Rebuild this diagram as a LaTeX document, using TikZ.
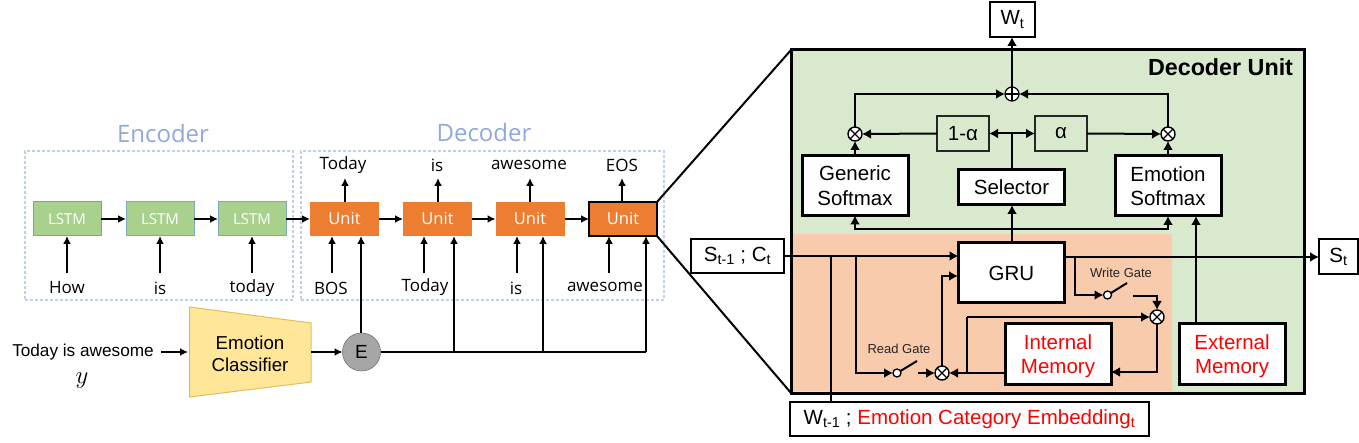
\documentclass[tikz,border=0pt]{standalone}
\usepackage{fontspec}
\setmainfont{Liberation Sans}
\newfontfamily\leftfont{Open Sans}
\usetikzlibrary{arrows.meta,positioning}
\definecolor{unitgreen}{HTML}{D8E9CE}
\definecolor{regionorange}{HTML}{F8CBAD}
\definecolor{lstmgreen}{HTML}{A9D18E}
\definecolor{lstmedge}{HTML}{7FA8B8}
\definecolor{unitorange}{HTML}{ED7D31}
\definecolor{dashblue}{HTML}{BFD0EC}
\definecolor{titleblue}{HTML}{8EAADB}
\definecolor{classfill}{HTML}{FFE699}
\definecolor{classedge}{HTML}{E2BE5A}
\definecolor{egray}{HTML}{A6A6A6}
\definecolor{memred}{HTML}{FF0000}
\tikzset{
  every node/.style={inner sep=0pt,outer sep=0pt,align=center},
  arr/.style={-{Latex[length=8pt,width=8pt]},line width=2pt,black},
  plain/.style={line width=2pt,black},
  thinarr/.style={-{Latex[length=9pt,width=10pt]},line width=2pt,black},
  lineonly/.style={line width=2pt,black},
  dashbox/.style={draw=dashblue,line width=1.3pt,dashed,dash pattern=on 3pt off 2pt},
  title/.style={text=titleblue,font=\leftfont\fontsize{24}{28}\selectfont},
  lstm/.style={rectangle,draw=lstmedge,fill=lstmgreen,line width=1pt,minimum width=68pt,minimum height=34pt,text=white,font=\leftfont\fontsize{15}{18}\selectfont},
  unitbox/.style={rectangle,fill=unitorange,minimum width=69pt,minimum height=34pt,text=white,font=\leftfont\fontsize{16.5}{20}\selectfont},
  word/.style={font=\leftfont\fontsize{17}{20}\selectfont},
  bigbox/.style={rectangle,draw=black,fill=white,line width=3pt,minimum width=106pt,minimum height=60pt,text depth=0pt,font=\fontsize{20.5}{24.5}\selectfont},
  lowered/.style={text depth=-3pt},
  smallbox/.style={rectangle,draw=black!85,line width=2pt,minimum width=52pt,minimum height=35pt,font=\fontsize{20.5}{24}\selectfont},
  iobox/.style={rectangle,draw=black,fill=white,line width=2pt,font=\fontsize{20.5}{24}\selectfont},
  otimesnode/.style={circle,draw=black,fill=white,line width=1.4pt,minimum size=14pt,path picture={
    \draw[line width=1.2pt] (path picture bounding box.north west)--(path picture bounding box.south east)
      (path picture bounding box.north east)--(path picture bounding box.south west);}},
  oplusnode/.style={circle,draw=black,fill=white,line width=1.2pt,minimum size=14pt,path picture={
    \draw[line width=1.1pt] (path picture bounding box.north)--(path picture bounding box.south)
      (path picture bounding box.east)--(path picture bounding box.west);}},
  gatecircle/.style={circle,draw=black,fill=white,line width=1.3pt,minimum size=8pt},
  gatetext/.style={font=\fontsize{13}{15}\selectfont,text=black!85},
  redtext/.style={text=memred},
}
\begin{document}
\begin{tikzpicture}[x=1pt,y=-1pt]
\useasboundingbox (0,0) rectangle (1359,443);
% ---- left part
\node[dashbox,minimum width=268pt,minimum height=149pt] (encbox) at (159,225.5) {};
\node[dashbox,minimum width=363pt,minimum height=149pt] (decbox) at (482.5,225.5) {};
\node[title] (enclabel) at (163,134) {Encoder};
\node[title] (declabel) at (484,133) {Decoder};
\node[lstm,draw=lstmgreen!80!black] (l1) at (67,219) {LSTM};
\node[lstm] (l2) at (160,219) {LSTM};
\node[lstm] (l3) at (252,219) {LSTM};
\node[unitbox] (u1) at (344.5,219) {Unit};
\node[unitbox] (u2) at (437.5,219) {Unit};
\node[unitbox] (u3) at (530,219) {Unit};
\node[unitbox,draw=black,line width=2.4pt,minimum width=68pt] (u4) at (623,219) {Unit};
\draw[arr] (l1.east)--(l2.west);
\draw[arr] (l2.east)--(l3.west);
\draw[arr] (l3.east)--(u1.west);
\draw[arr] (u1.east)--(u2.west);
\draw[arr] (u2.east)--(u3.west);
\draw[arr] (u3.east)--(u4.west);
\node[word] (w1) at (67,288) {How};
\node[word] (w2) at (160,288) {is};
\node[word] (w3) at (252,288) {today};
\node[word] (w4) at (331,288) {BOS};
\node[word] (w5) at (425,287) {Today};
\node[word] (w6) at (516,288) {is};
\node[word] (w7) at (605,287) {awesome};
\coordinate (t1) at (67,273);\coordinate (t2) at (160,273);\coordinate (t3) at (252,273);
\coordinate (t4) at (332,273);\coordinate (t5) at (424,273);\coordinate (t6) at (517,273);\coordinate (t7) at (609,273);
\draw[arr] (t1)--(t1 |- l1.south);
\draw[arr] (t2)--(t2 |- l2.south);
\draw[arr] (t3)--(t3 |- l3.south);
\draw[arr] (t4)--(t4 |- u1.south);
\draw[arr] (t5)--(t5 |- u2.south);
\draw[arr] (t6)--(t6 |- u3.south);
\draw[arr] (t7)--(t7 |- u4.south);
\node[word] (o1) at (343,165) {Today};
\node[word] (o2) at (437,165) {is};
\node[word] (o3) at (529,165) {awesome};
\node[word] (o4) at (622,165) {EOS};
\coordinate (p1) at (345,178);\coordinate (p2) at (438,178);\coordinate (p3) at (530,178);\coordinate (p4) at (622,178);
\draw[arr] (p1 |- u1.north)--(p1);
\draw[arr] (p2 |- u2.north)--(p2);
\draw[arr] (p3 |- u3.north)--(p3);
\draw[arr] (p4 |- u4.north)--(p4);
% emotion classifier
\draw[draw=classedge,fill=classfill,line width=1pt] (189.5,307)--(311,323)--(311,382)--(189.5,397)--cycle;
\node[font=\fontsize{18.7}{21.5}\selectfont] (clf) at (250,353.5) {Emotion\\[0.5pt]Classifier};
\coordinate (clfr) at (311,352);
\coordinate (clfl) at (188,352);
\node[font=\fontsize{17.2}{20}\selectfont] (src) at (83,352.5) {Today is awesome};
\node[font=\fontsize{24}{26}\selectfont] (ylab) at (82,381) {$y$};
\coordinate (srcend) at (161,352);
\draw[arr] (srcend)--(clfl);
\node[circle,draw=black!55,fill=egray,line width=.6pt,minimum size=38pt,font=\fontsize{19}{22}\selectfont] (e) at (361.5,352) {E};
\draw[arr] (clfr)--(e.west);
\coordinate (j1) at (361,236);\coordinate (j2) at (454,352);\coordinate (j3) at (543,352);\coordinate (j4) at (646,352);
\draw[arr] (j1 |- e.north)--(j1);
\draw[plain] (e.east)--(j4);
\draw[arr] (j2)--(j2 |- u2.south);
\draw[arr] (j3)--(j3 |- u3.south);
\draw[arr] (j4)--(j4 |- u4.south);
% ---- decoder unit
\node[rectangle,fill=unitgreen,draw=black,line width=3pt,minimum width=513pt,minimum height=343pt] (dunit) at (1047.5,221.5) {};
\fill[regionorange] (793,234) rectangle (1172,391);
\draw[line width=3pt,black] (dunit.north west) rectangle (dunit.south east);
\draw[line width=2pt] (u4.north east)--(dunit.north west);
\draw[line width=2pt] (u4.south east)--(dunit.south west);
\node[anchor=east,font=\bfseries\fontsize{23.3}{27}\selectfont] (dutitle) at (1293,67.5) {Decoder Unit};
\node[iobox,minimum width=45pt,minimum height=35pt] (wt) at (1012.5,19.5) {W\textsubscript{t}};
\node[iobox,minimum width=93pt,minimum height=34pt] (sc) at (737.5,256) {S\textsubscript{t-1} ; C\textsubscript{t}};
\node[iobox,minimum width=39pt,minimum height=35pt] (st) at (1338.5,256.5) {S\textsubscript{t}};
\node[iobox,minimum width=359pt,minimum height=34pt] (wc) at (969.5,419) {W\textsubscript{t-1} ; {\color{memred}Emotion Category Embedding\textsubscript{t}}};
\node[bigbox,lowered] (gen) at (855,185.5) {Generic\\Softmax};
\node[bigbox,lowered] (emo) at (1168,186) {Emotion\\Softmax};
\node[bigbox,lowered,minimum height=35pt] (sel) at (1011.5,187.5) {Selector};
\node[bigbox,lowered,minimum height=60pt] (gru) at (1011.5,273) {GRU};
\node[bigbox,redtext] (imem) at (1058,354) {Internal\\Memory};
\node[bigbox,redtext] (emem) at (1232,354) {External\\Memory};
\node[smallbox] (oma) at (963,133.5) {1-α};
\node[smallbox] (alp) at (1061,133.5) {α};
\node[oplusnode] (plus) at (1012,94) {};
\node[otimesnode] (gx) at (855,134) {};
\node[otimesnode] (ex) at (1168,134) {};
\node[otimesnode] (rx) at (942,373) {};
\node[otimesnode] (wx) at (1157,317) {};
\node[gatecircle] (rg) at (897,373) {};
\node[gatecircle] (wg) at (1107.5,295) {};
\node[gatetext] (rgl) at (899,349) {Read Gate};
\node[gatetext] (wgl) at (1121,273) {Write Gate};
% top tree
\draw[thinarr] (plus.north)--(plus.north |- wt.south);
\draw[thinarr] (gx.north)|-(plus.west);
\draw[thinarr] (ex.north)|-(plus.east);
\draw[thinarr] (gen.north -| gx)--(gx.south);
\draw[thinarr] (emo.north -| ex)--(ex.south);
\draw[thinarr] (oma.west)--(gx.east);
\draw[thinarr] (alp.east)--(ex.west);
\coordinate (selj) at (plus |- oma.east);
\draw[lineonly] (selj |- sel.north)--(selj);
\draw[thinarr] (selj)--(oma.east);
\draw[thinarr] (selj)--(alp.west);
% GRU to selector and softmaxes
\coordinate (busj) at (1012,229);
\draw[thinarr] (busj |- gru.north)--(busj |- sel.south);
\draw[thinarr] (busj)-|(gen.south);
\draw[thinarr] (busj)-|(emo.south);
\coordinate (emx) at (1196,216);
\draw[thinarr] (emem.north -| emx)--(emx);
% inputs
\draw[thinarr] (sc.east)--(sc.east -| gru.west);
\coordinate (wj) at (831,256);
\draw[lineonly] (wc.north -| wj)--(wj);
\coordinate (rj) at (856,256);
\draw[thinarr] (rj)|-(rg.west);
% read gate
\coordinate (rsw) at (917,361);
\draw[lineonly] (rg.30)--(rsw);
\coordinate (rout) at (918,373);
\draw[thinarr] (rout)--(rx.west);
\coordinate (grul) at (958,276);
\draw[thinarr] (rx.north)|-(grul);
\coordinate (imj) at (967,373);
\draw[thinarr] (imem.west |- rx.east)--(rx.east);
\draw[lineonly] (imj)--(imj |- wx.west);
\draw[thinarr] (imj |- wx.west)--(wx.west);
% output
\coordinate (stp) at (1319,257);
\draw[thinarr] (gru.east |- stp)--(stp);
\coordinate (wj2) at (1075,257);
\draw[thinarr] (wj2)|-(wg.west);
\coordinate (wsw) at (1127,283);
\draw[lineonly] (wg.30)--(wsw);
\coordinate (wout) at (1133,296);
\draw[thinarr] (wout)-|(wx.north);
\coordinate (imr) at (1111,372);
\draw[thinarr] (wx.south)|-(imr);
\end{tikzpicture}
\end{document}
